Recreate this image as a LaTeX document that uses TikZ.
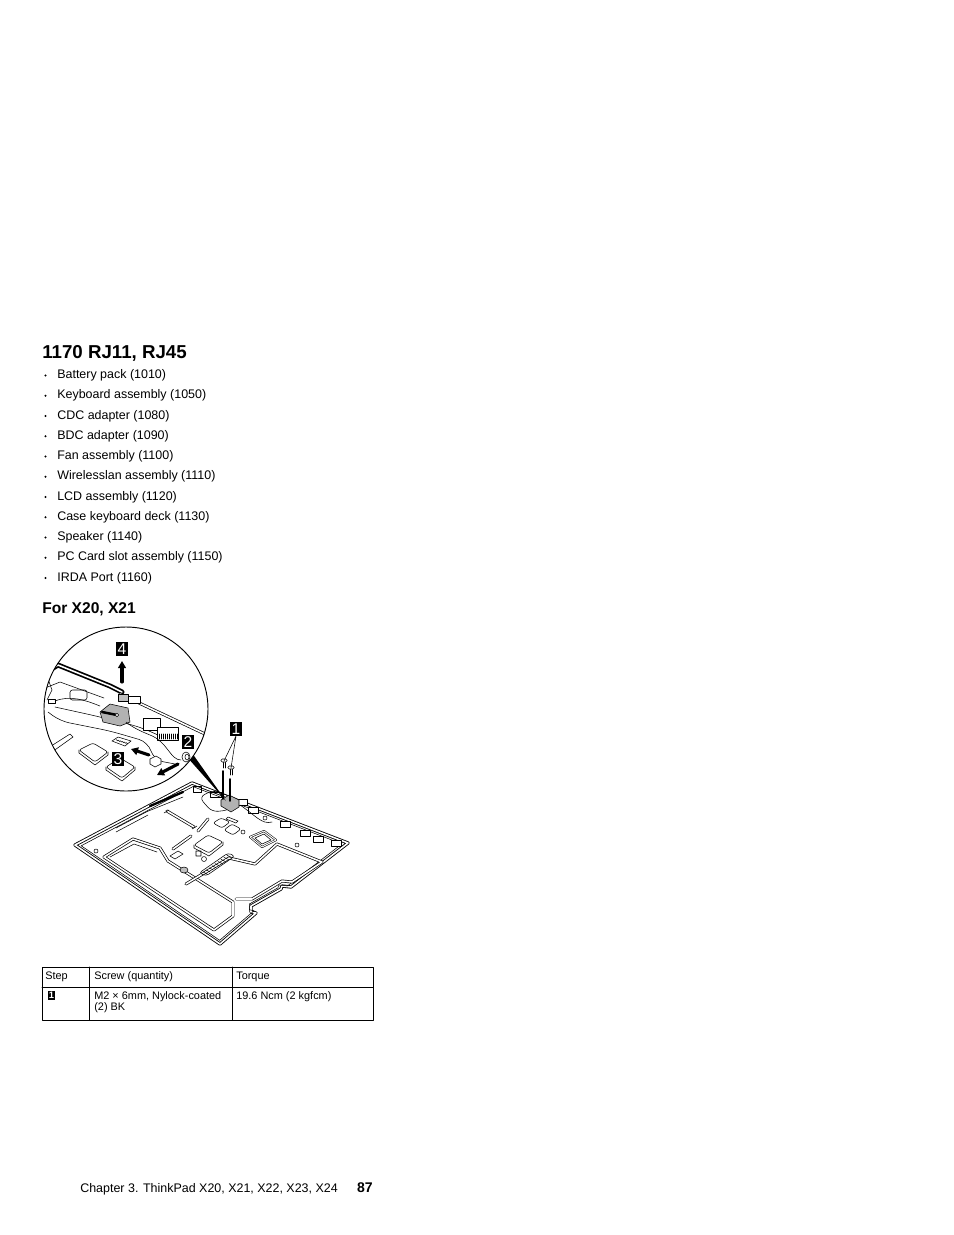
\documentclass[tikz,border=0pt]{standalone}
\usepackage{fontspec}
\setmainfont{Liberation Sans}
\usetikzlibrary{arrows.meta}
\begin{document}
\begin{tikzpicture}[x=0.642pt,y=-0.642pt,line join=round,line cap=round,
	txt/.style={anchor=base west,inner sep=0pt,font=\fontsize{8}{9.6}\selectfont},
	cell/.style={anchor=base west,inner sep=0pt,font=\fontsize{7}{8.4}\selectfont},
	tag/.style={fill=black,text=white,inner sep=0pt,minimum width=8pt,minimum height=8.6pt,font=\fontsize{10}{10}\selectfont},
	fine/.style={line width=.35pt},
	wall/.style={double,double distance=1pt,line width=.45pt},
	chip/.style={fine,rounded corners=1.5pt,fill=white},
	push/.style={-{Triangle[length=4.5pt,width=5pt]},line width=2pt}]
	\useasboundingbox (0,0) rectangle (954,1235);
	% page text
	\node[txt,font=\bfseries\fontsize{12}{14}\selectfont] (title) at (42,358) {1170 RJ11, RJ45};
	\foreach \t [count=\i from 0] in {Battery pack (1010),Keyboard assembly (1050),CDC adapter (1080),BDC adapter (1090),Fan assembly (1100),Wirelesslan assembly (1110),LCD assembly (1120),Case keyboard deck (1130),Speaker (1140),PC Card slot assembly (1150),IRDA Port (1160)}
		{\fill (45.5,{375.5+20.25*\i}) circle (1.2);
		\node[txt] (item\i) at (57,{378.5+20.25*\i}) {\t};}
	\node[txt,font=\bfseries\fontsize{10}{12}\selectfont] (sub) at (42,613) {For X20, X21};
	% the system board
	\def\tray{(75,845)--(192,783)--(348,843)--(291,887)--(282,886)--(281,889)--(251,906)--(251,912)--(256,913)--(220,944)--cycle}
	\draw[wall,line width=.55pt] \tray;
	\draw[fine,scale around={.955:(213,862)}] \tray;
	\draw[wall] (104,857)--(133,839)--(160,848)--(168,861)--(233,902)--(233,916)--(214,930)--cycle;
	\draw[fine] (110,857)--(134,844)--(157,852);
	\draw[wall] (186,884)--(229,858)--(255,864)--(277,844)--(322,862)--(292,882)--(282,881)--(252,899)--(236,899);
	\draw[line width=1.5pt] (150,806)--(183,792);
	\draw[fine] (146,812)--(183,797) (116,832)--(148,815) (116,828)--(148,811);
	\draw[wall] (167,811)--(194,827);
	\draw[fine] (164,813)--(169,810) (192,829)--(197,826);
	\draw[wall] (173,849)--(191,836);
	\draw[wall] (198,831)--(208,819);
	\draw[chip] (194,845)--(208,835)--(223,842)--(209,853)--cycle;
	\draw[fine] (194,845)--(194,848)--(209,856)--(223,845)--(223,842);
	\draw[fine] (196,851) rectangle (201,856) (204,859) circle (2.5);
	\draw[chip] (213,823)--(221,818)--(230,822)--(222,828)--cycle;
	\draw[chip] (224,830)--(232,824)--(241,829)--(233,835)--cycle;
	\draw[fine] (228,817)--(238,821)--(236,823)--(226,819)--cycle;
	\draw[fine,double,double distance=.6pt] (250,837)--(264,831)--(276,840)--(262,847)--cycle;
	\draw[fine] (255,838)--(264,834)--(271,840)--(262,844)--cycle;
	\draw[fine,rounded corners=2] (199,873)--(228,853)--(235,856)--(206,876)--cycle;
	\foreach \k in {0,...,8} \draw[fine] ({203+3*\k},{872-2.1*\k})--++(4,2);
	\draw[fine,fill=gray!50] (184,870) ellipse (4 and 3);
	\draw[fine] (170,856)--(178,851)--(183,854)--(175,859)--cycle;
	\draw[fine,rounded corners=4] (199,797)--(214,790)--(241,801)--(229,810)--(212,812)--cycle;
	\draw[fine] (193,786) rectangle (201,792) (210,792) rectangle (221,797);
	\foreach \a/\b in {237/799,248/807,280/821,300/830,313/836,331/840}
		\draw[fine,fill=white] (\a,\b) rectangle ++(10,6);
	\foreach \p in {(265,818),(297,845),(243,832),(96,851)} \draw[fine] \p circle (2);
	\draw[fine] (240,805) .. controls (255,815) and (262,825) .. (272,822);
	\draw[fine,fill=gray!60] (221,800)--(229,795)--(239,800)--(239,807)--(231,812)--(221,806)--cycle;
	% screws
	\path (224,761) coordinate (sc1) (231,768) coordinate (sc2) (226,801) coordinate (jack);
	\draw[line width=1.1pt] (223,771)--(223,799) (230,779)--(230,801);
	\foreach \s in {sc1,sc2}
		{\draw[fine] (\s) ++(-1,1)--++(0,6) (\s) ++(1,1)--++(0,6);
		\draw[fine,fill=white,rounded corners=.8pt] (\s) ++(-3,-2) rectangle ++(6,3);}
	\node[tag] (t1) at (236,729) {1};
	\draw[fine] (t1.south)--(sc1) (t1.south)--(sc2);
	% zoomed view
	\fill (187,757)--(192,753)--(jack)--cycle;
	\fill[white] (126,709) circle (82);
	\begin{scope}
		\clip (126,709) circle (82);
		\draw[wall,line width=1.1pt] (40,676)--(58,665)--(110,686)--(122,692);
		\draw[fine] (40,690)--(60,682)--(104,698);
		\draw[wall] (120,694)--(205,734);
		\draw[fine] (47,676)--(52,690)--(47,700);
		\draw[fine] (48,699) rectangle (55,703);
		\draw[fine] (55,701) .. controls (70,695) and (85,700) .. (100,706);
		\draw[fine,rounded corners=1.5pt] (70,690) rectangle (87,700);
		\draw[fine,rounded corners=6] (48,712)--(60,721)--(110,731)--(148,742)--(154,760)--(175,764);
		\draw[fine,rounded corners=6] (55,707)--(96,716)--(140,727)--(158,735);
		\draw[fine,fill=gray!60] (100,712)--(110,704)--(128,708)--(130,722)--(120,726)--(103,722)--cycle;
		\draw[line width=1.6pt] (102,712)--(117,715);
		\draw[fine,fill=white] (117,715) circle (1.8);
		\draw[fine,fill=gray!50] (118,694) rectangle (128,701);
		\draw[fine,fill=white] (128,696) rectangle (140,703);
		\draw[fine,fill=white] (143,718) rectangle (160,730);
		\draw[fine,fill=white] (157,727) rectangle (178,740);
		\foreach \k in {0,2,...,18} \draw[fine] ({159+\k},734)--++(0,5);
		\draw[fine] (48,748)--(70,734)--(73,737)--(52,752);
		\draw[chip] (79,750)--(93,743)--(108,752)--(95,762)--cycle;
		\draw[fine] (79,750)--(79,753)--(95,765)--(108,755)--(108,752);
		\draw[chip] (106,767)--(120,758)--(135,767)--(122,778)--cycle;
		\draw[fine] (106,767)--(106,770)--(122,781)--(135,770)--(135,767);
		\draw[fine,fill=white] (112,741)--(118,737)--(131,741)--(125,746)--cycle;
		\foreach \k in {0,2,...,10} \draw[fine] ({116+\k},{739.5+.3*\k})--++(2,1.5);
		\draw[fine,fill=white] (150,759)--(156,756)--(161,759)--(161,764)--(155,767)--(150,764)--cycle;
		\draw[fine] (181,760) .. controls (170,760) and (168,742) .. (150,735) .. controls (140,731) and (132,727) .. (126,722);
		\draw[fine,fill=white] (186,757) ellipse (4 and 5);
		\draw[fine] (187,757) ellipse (2 and 3);
		\draw[push] (122,682)--(122,661);
		\draw[push] (149,755)--(131,749);
		\draw[push] (178,764)--(157,775);
	\end{scope}
	\draw[line width=.6pt] (126,709) circle (82);
	\node[tag] (t4) at (122,649) {4};
	\node[tag] (t2) at (188,742) {2};
	\node[tag] (t3) at (118,759) {3};
	% torque table
	\draw[fine] (42,967) rectangle (373,1020) (89,967)--(89,1020) (232,967)--(232,1020) (42,987)--(373,987);
	\node[cell] (hStep) at (45,979) {Step};
	\node[cell] (hScrew) at (94,979) {Screw (quantity)};
	\node[cell] (hTorque) at (236,979) {Torque};
	\node[tag,minimum width=4.6pt,minimum height=5.8pt,font=\bfseries\fontsize{6}{6}\selectfont] (s1) at (51.5,995.5) {1};
	\node[cell] (screw) at (94,999) {M2 × 6mm, Nylock-coated};
	\node[cell] (qty) at (94,1010) {(2) BK};
	\node[cell] (torque) at (236,999) {19.6 Ncm (2 kgfcm)};
	% footer
	\node[txt] (foot) at (80,1192) {Chapter 3. ThinkPad X20, X21, X22, X23, X24};
	\node[txt,anchor=base east,font=\bfseries\fontsize{9}{10}\selectfont] (page) at (373,1192) {87};
\end{tikzpicture}
\end{document}
